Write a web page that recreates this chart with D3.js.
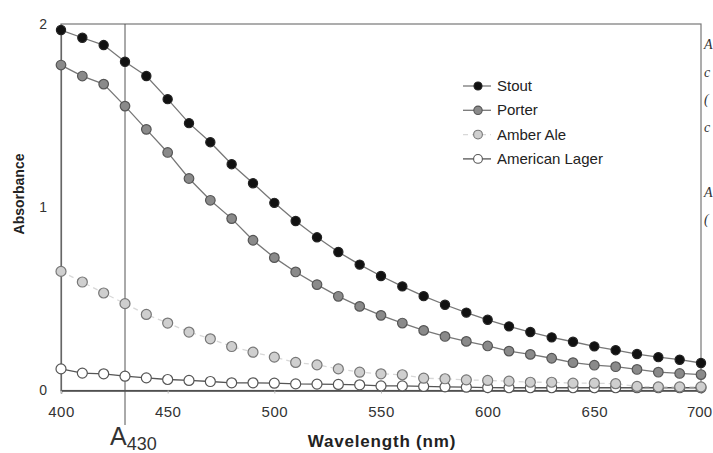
<!DOCTYPE html>
<html>
<head>
<meta charset="utf-8">
<script src="https://cdn.jsdelivr.net/npm/d3@7"></script>
<style>
  body { margin: 0; background: #fff; }
  svg { display: block; font-family: Arial, "Liberation Sans", sans-serif; }
</style>
</head>
<body>
<svg id="chart" width="713" height="453"></svg>
<script>
// wavelengths, every 10 nm
var wavelengths = d3.range(400, 701, 10);

// absorbance values
var stout = [1.967, 1.925, 1.885, 1.794, 1.716, 1.59, 1.459, 1.355, 1.235, 1.131,
    1.024, 0.925, 0.836, 0.756, 0.687, 0.625, 0.568, 0.515, 0.468, 0.425,
    0.386, 0.35, 0.319, 0.29, 0.266, 0.241, 0.22, 0.199, 0.182, 0.168, 0.15];
var porter = [1.776, 1.716, 1.672, 1.552, 1.425, 1.299, 1.157, 1.038, 0.938, 0.82,
    0.725, 0.647, 0.578, 0.514, 0.459, 0.41, 0.368, 0.328, 0.295, 0.268,
    0.243, 0.215, 0.197, 0.176, 0.152, 0.138, 0.13, 0.115, 0.1, 0.093, 0.087];
var amberAle = [0.65, 0.592, 0.532, 0.474, 0.415, 0.368, 0.319, 0.282, 0.24, 0.209,
    0.182, 0.153, 0.14, 0.118, 0.1, 0.091, 0.086, 0.067, 0.064, 0.058,
    0.055, 0.051, 0.045, 0.045, 0.04, 0.04, 0.037, 0.022, 0.02, 0.02, 0.02];
var americanLager = [0.118, 0.095, 0.091, 0.078, 0.069, 0.06, 0.055, 0.049, 0.042, 0.042,
    0.04, 0.036, 0.035, 0.033, 0.031, 0.025, 0.025, 0.022, 0.02, 0.018,
    0.016, 0.015, 0.015, 0.015, 0.015, 0.015, 0.015, 0.015, 0.015, 0.015, 0.015];

var seriesNames = ["Stout", "Porter", "Amber Ale", "American Lager"];
var xTicks = [400, 450, 500, 550, 600, 650, 700];
var yTicks = [0, 1, 2];

var svg = d3.select("#chart");

var x = d3.scaleLinear().domain([400, 700]).range([61, 701]);
var y = d3.scaleLinear().domain([0, 2]).range([390.5, 24]);

// look of each series
var styles = [
    { fill: "#111", stroke: "#222", line: "#777", dash: null, r: 4.6 },
    { fill: "#8a8a8a", stroke: "#555", line: "#777", dash: null, r: 4.8 },
    { fill: "#cfcfcf", stroke: "#777", line: "#d8d8d8", dash: "5,4", r: 5 },
    { fill: "#fff", stroke: "#555", line: "#555", dash: null, r: 5 }
];
var allSeries = [stout, porter, amberAle, americanLager];

// frame
svg.append("rect")
    .attr("x", x(400)).attr("y", y(2))
    .attr("width", x(700) - x(400)).attr("height", y(0) - y(2))
    .attr("fill", "none").attr("stroke", "#777").attr("stroke-width", 1.2);

// bottom axis
var xAxis = svg.append("g")
    .attr("transform", "translate(0," + y(0) + ")")
    .call(d3.axisBottom(x).tickValues(xTicks).tickSize(3).tickPadding(13));
xAxis.select(".domain").attr("stroke", "#444").attr("stroke-width", 1.5);
xAxis.selectAll(".tick line").attr("stroke", "#bbb");
xAxis.selectAll("text").attr("font-size", 15).attr("fill", "#333")
    .attr("letter-spacing", 0.5)
    .attr("font-family", "Arial, 'Liberation Sans', sans-serif");
// last label sits on the page edge, pull it in a little
xAxis.selectAll("text").filter(function (d) { return d === 700; })
    .attr("letter-spacing", 0).attr("dx", -2);

// left axis
var yAxis = svg.append("g")
    .attr("transform", "translate(" + x(400) + ",0)")
    .call(d3.axisLeft(y).tickValues(yTicks).tickFormat(d3.format("d")).tickSize(0).tickPadding(14));
yAxis.select(".domain").attr("stroke", "#666").attr("stroke-width", 1.2);
yAxis.selectAll("text").attr("font-size", 14).attr("fill", "#333")
    .attr("font-family", "Arial, 'Liberation Sans', sans-serif");

// A430 marker line
svg.append("line")
    .attr("x1", x(430)).attr("x2", x(430))
    .attr("y1", y(2)).attr("y2", 425)
    .attr("stroke", "#555").attr("stroke-width", 1);

var a430 = svg.append("text")
    .attr("x", x(430) - 15).attr("y", 445)
    .attr("font-size", 25).attr("fill", "#333");
a430.append("tspan").text("A");
a430.append("tspan").attr("dy", 5).attr("font-size", 18).text("430");

// axis titles
svg.append("text")
    .attr("x", 382).attr("y", 447)
    .attr("text-anchor", "middle")
    .attr("font-size", 17).attr("font-weight", "bold").attr("fill", "#222")
    .attr("letter-spacing", 0.8)
    .text("Wavelength (nm)");

svg.append("text")
    .attr("transform", "translate(24,194) rotate(-90)")
    .attr("text-anchor", "middle")
    .attr("font-size", 14).attr("font-weight", "bold").attr("fill", "#222")
    .text("Absorbance");

// lines and points, back to front
var line = d3.line()
    .x(function (d, i) { return x(wavelengths[i]); })
    .y(function (d) { return y(d); });

for (var s = allSeries.length - 1; s >= 0; s--) {
    var st = styles[s];
    svg.append("path")
        .datum(allSeries[s])
        .attr("d", line)
        .attr("fill", "none")
        .attr("stroke", st.line)
        .attr("stroke-width", 1.3)
        .attr("stroke-dasharray", st.dash);

    svg.append("g").selectAll("circle")
        .data(allSeries[s])
        .enter().append("circle")
        .attr("cx", function (d, i) { return x(wavelengths[i]); })
        .attr("cy", function (d) { return y(d); })
        .attr("r", st.r)
        .attr("fill", st.fill)
        .attr("stroke", st.stroke)
        .attr("stroke-width", 1.2);
}

// legend
var legend = svg.append("g").attr("transform", "translate(463,86)");
seriesNames.forEach(function (name, i) {
    var st = styles[i];
    var row = legend.append("g").attr("transform", "translate(0," + (i * 24.3) + ")");
    row.append("line")
        .attr("x1", 0).attr("x2", 28)
        .attr("stroke", st.line).attr("stroke-width", 1.3)
        .attr("stroke-dasharray", st.dash);
    row.append("circle")
        .attr("cx", 15).attr("r", st.r - 0.6)
        .attr("fill", st.fill).attr("stroke", st.stroke).attr("stroke-width", 1.1);
    row.append("text")
        .attr("x", 34).attr("y", 5)
        .attr("font-size", 15).attr("fill", "#222")
        .text(name);
});

// cut-off text from the next column on the right edge
var edgeText = ["A", "c", "(", "c", "A", "("];
var edgeY = [49, 77, 104, 132, 197, 224];
edgeText.forEach(function (t, i) {
    svg.append("text")
        .attr("x", 704).attr("y", edgeY[i])
        .attr("font-size", 14).attr("font-style", "italic")
        .attr("font-family", "'Liberation Serif', serif")
        .attr("fill", "#333")
        .text(t);
});
</script>
</body>
</html>
